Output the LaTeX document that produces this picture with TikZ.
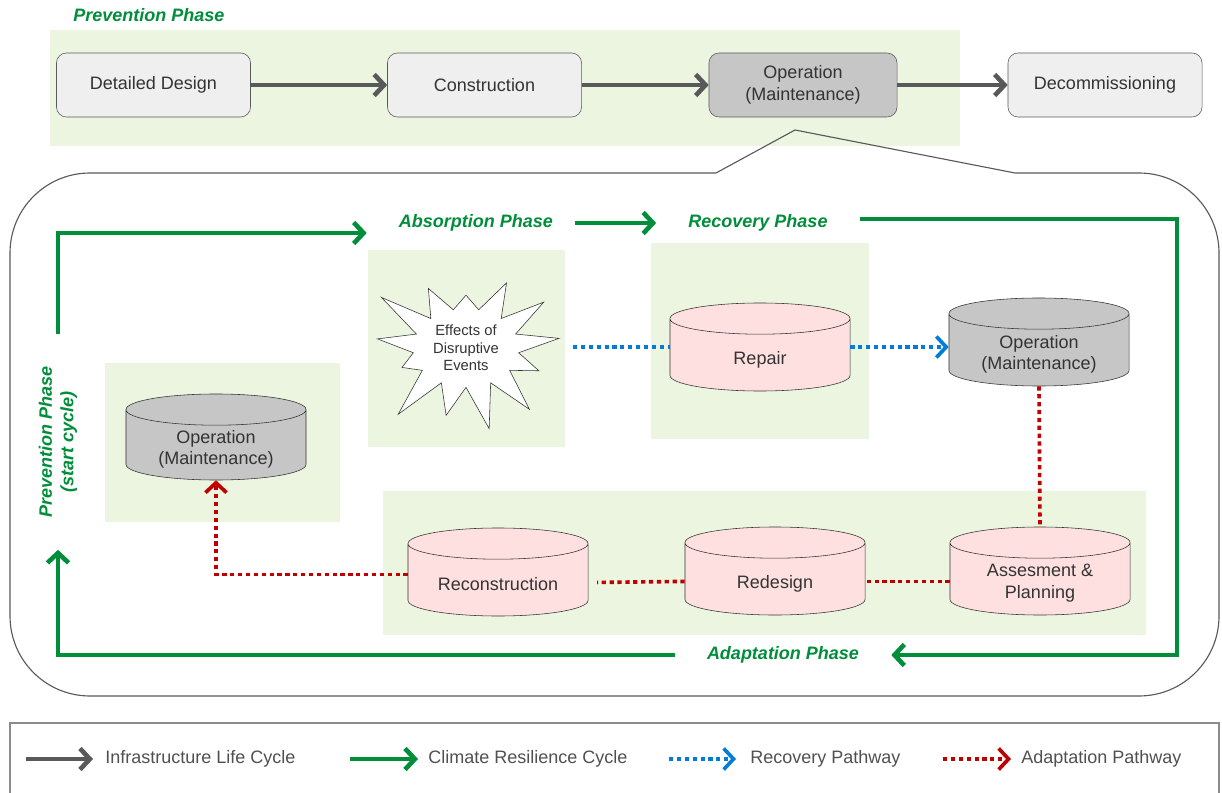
\documentclass[tikz,border=0pt]{standalone}
\usepackage{fontspec}
\setmainfont{Liberation Sans}
\usetikzlibrary{shapes.geometric,shapes.symbols,arrows.meta}

\definecolor{cycgreen}{RGB}{0,142,58}
\definecolor{phasefill}{RGB}{235,245,224}
\definecolor{lifegray}{RGB}{89,89,89}
\definecolor{boxgray}{RGB}{239,239,239}
\definecolor{opgray}{RGB}{198,198,198}
\definecolor{repink}{RGB}{255,224,224}
\definecolor{recblue}{RGB}{0,125,215}
\definecolor{adared}{RGB}{192,0,0}
\definecolor{txtgray}{RGB}{51,51,51}

\tikzset{
  basefont/.style={font=\fontsize{12.8}{15.4}\selectfont},
  lifebox/.style={basefont, draw=lifegray, fill=boxgray, rounded corners=0.25cm,
    minimum width=4.85cm, minimum height=1.6cm, align=center, text=txtgray},
  drum/.style={basefont, cylinder, shape border rotate=90, aspect=0.5, draw=txtgray,
    fill=repink, minimum width=4.5cm, minimum height=2.2cm, align=center, anchor=shape center},
  drumtext/.style={basefont, align=center, text=txtgray},
  phaselabel/.style={text=cycgreen, font=\fontsize{12.8}{15.4}\selectfont\bfseries\itshape},
  cyclelabel/.style={phaselabel, inner xsep=0.8cm, inner ysep=0pt},
  legendtext/.style={basefont, text=lifegray!90!black, anchor=west, inner sep=0pt},
  chevron/.style={-{Straight Barb[length=7pt,width=15pt]}},
  lifearrow/.style={draw=lifegray, line width=3.3pt, chevron},
  cyclearrow/.style={draw=cycgreen, line width=3.3pt, chevron},
  recpath/.style={draw=recblue, line width=2.6pt, dash pattern=on 3pt off 2.6pt},
  adapath/.style={draw=adared, line width=2.6pt, dash pattern=on 3pt off 2.6pt},
}

\begin{document}
\begin{tikzpicture}[x=0.025cm, y=-0.025cm]
\useasboundingbox (0,0) rectangle (1222,793);

% Draw phase backgrounds
\fill[phasefill] (50,30) rectangle (960,146);
\fill[phasefill] (368,250) rectangle (565,447);
\fill[phasefill] (651,243) rectangle (869,439);
\fill[phasefill] (105,363) rectangle (340,522);
\fill[phasefill] (383,491) rectangle (1146,635);

% Infrastructure life cycle
\node[phaselabel, anchor=west, inner sep=0pt] (prevtop) at (73,15) {Prevention Phase};
\node[lifebox] (design) at (153.5,85) {Detailed Design};
\node[lifebox] (build) at (484.5,85) {Construction};
\node[lifebox, fill=opgray, minimum width=4.7cm] (oper) at (803,85) {Operation\\(Maintenance)};
\node[lifebox] (decom) at (1105,85) {Decommissioning};

\draw[lifearrow] (design) -- (build);
\draw[lifearrow] (build) -- (oper);
\draw[lifearrow] (oper) -- (decom);

% Draw callout around the resilience cycle
\coordinate (tip) at (795,130);
\draw[lifegray, line width=0.8pt] (716,173) -- (tip) -- (1015,173) -- (1100,173)
  [rounded corners=2cm] -- (1219,173) -- (1219,696) -- (10,696) -- (10,173)
  -- (600,173) [sharp corners] -- (716,173);

% Phase labels
\node[cyclelabel] (absorb) at (476,223) {Absorption Phase};
\node[cyclelabel] (recover) at (758,223) {Recovery Phase};
\node[cyclelabel] (adapt) at (783,655) {Adaptation Phase};
\node[cyclelabel, rotate=90, align=center, inner ysep=2pt] (prevent) at (58,442) {Prevention Phase\\(start cycle)};

% Climate resilience cycle
\draw[cyclearrow] (prevent.east) |- ([yshift=-0.25cm]absorb.west);
\draw[cyclearrow] ([xshift=-0.25cm]absorb.east) -- (recover.west);
\draw[cyclearrow] ([yshift=0.1cm]recover.east) -| (1177,450) |- (adapt.east);
\draw[cyclearrow] (adapt.west) -| (prevent.west);

% Stages
\node[starburst, starburst points=13, starburst point height=1.3cm, random starburst=23,
  draw=txtgray, fill=white, minimum width=5.1cm, minimum height=3.9cm, align=center,
  text=txtgray, font=\fontsize{10.5}{12.6}\selectfont] (burst) at (466,348)
  {Effects of\\Disruptive\\Events};
\node[drum] (repair) at (760,347) {\phantom{Repair}};
\node[drum, fill=opgray] (op2) at (1039,342) {\phantom{Repair}};
\node[drum, fill=opgray, minimum height=2.15cm] (opleft) at (216,437) {\phantom{Repair}};
\node[drum] (recon) at (498,572) {\phantom{Repair}};
\node[drum] (redesign) at (775,571) {\phantom{Repair}};
\node[drum] (assess) at (1040,571) {\phantom{Repair}};
\node[drumtext] (repairtxt) at ([yshift=-0.07cm]repair.center) {Repair};
\node[drumtext] (op2txt) at ([yshift=-0.05cm]op2.center) {Operation\\(Maintenance)};
\node[drumtext] (oplefttxt) at ([yshift=-0.05cm]opleft.center) {Operation\\(Maintenance)};
\node[drumtext] (recontxt) at ([yshift=-0.03cm]recon.center) {Reconstruction};
\node[drumtext] (redesigntxt) at ([yshift=-0.05cm]redesign.center) {Redesign};
\node[drumtext] (assesstxt) at ([yshift=-0.05cm]assess.center) {Assesment \&\\Planning};

% Recovery pathway
\coordinate (burstout) at (573,347);
\draw[recpath] (burstout) -- (burstout -| repair.west);
\draw[recpath, chevron] (burstout -| repair.east) -- (burstout -| op2.west);

% Adaptation pathway
\draw[adapath] (op2.south) -- (assess.north);
\draw[adapath] (assess.west) -- (redesign.east);
\draw[adapath] (redesign.west) -- ([xshift=0.22cm]recon.east);
\draw[adapath, chevron] ([yshift=0.2cm]recon.west) -| (opleft.south);

% Legend
\draw[lifegray!70, line width=0.8pt] (10,723) rectangle (1219,805);
\node[legendtext] (leglife) at (105,759) {Infrastructure Life Cycle};
\node[legendtext] (legcycle) at (428,759) {Climate Resilience Cycle};
\node[legendtext] (legrec) at (750,759) {Recovery Pathway};
\node[legendtext] (legada) at (1021,759) {Adaptation Pathway};
\coordinate (lifestart) at (26,759);
\coordinate (cyclestart) at (350,759);
\coordinate (recstart) at (669,759);
\coordinate (adastart) at (943,759);
\draw[lifearrow] (lifestart) -- ([xshift=-0.3cm]leglife.west);
\draw[cyclearrow] (cyclestart) -- ([xshift=-0.25cm]legcycle.west);
\draw[recpath, chevron] (recstart) -- ([xshift=-0.35cm]legrec.west);
\draw[adapath, chevron] (adastart) -- ([xshift=-0.25cm]legada.west);
\end{tikzpicture}
\end{document}
